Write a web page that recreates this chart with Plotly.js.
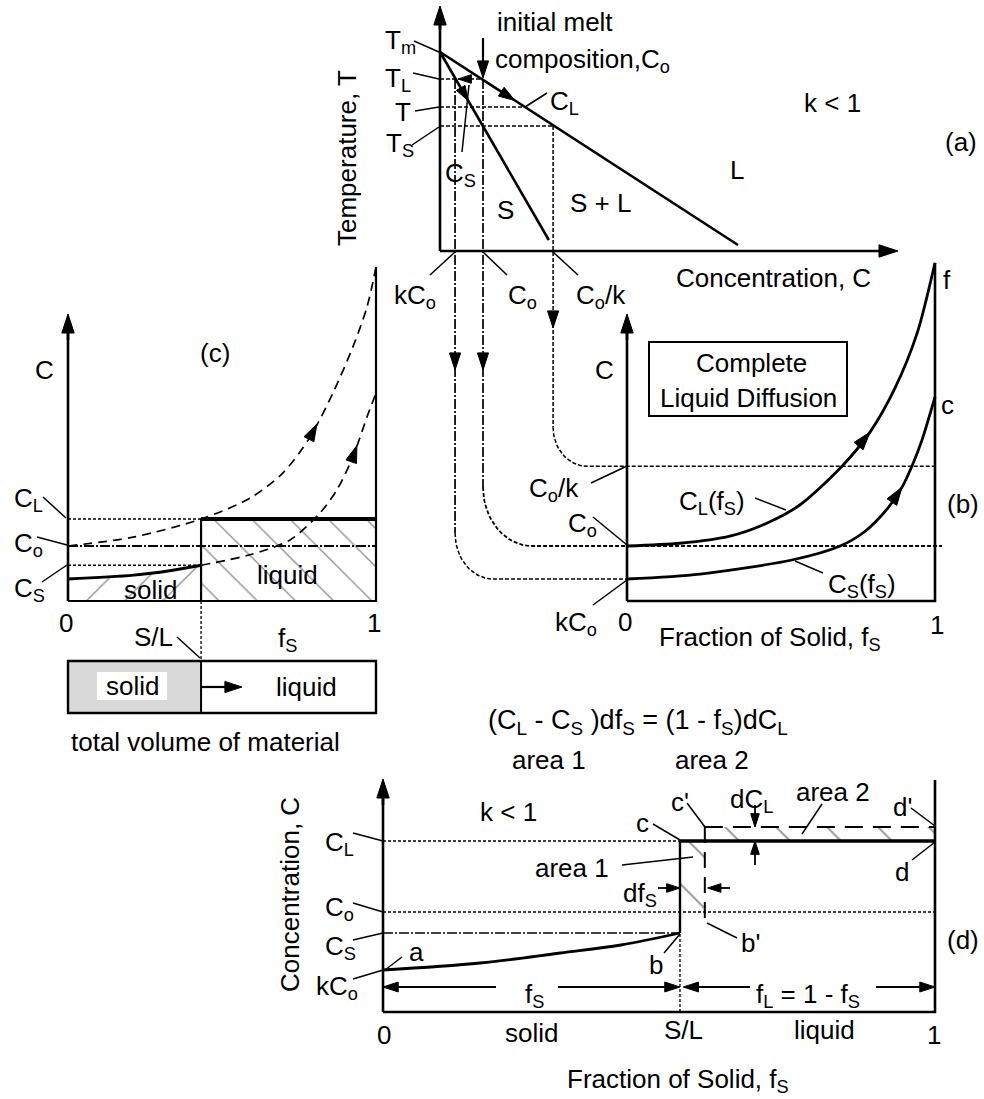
<!DOCTYPE html>
<html><head><meta charset="utf-8">
<script src="https://cdn.plot.ly/plotly-3.0.1.min.js"></script>
<style>html,body{margin:0;padding:0;background:#fff}#chart{width:984px;height:1099px}</style>
</head><body><div id="chart"></div>
<script>
// ================= DATA =================
// Panel (a): phase diagram, concentration in units of Co, temperature in arbitrary units
const concNamesA  = ['kCo', 'Co', 'Co/k'];
const concLevelsA = [0.35, 1.0, 2.63];
const tempNames   = ['Tm', 'TL', 'T', 'TS'];
const tempLevels  = [199, 172, 144, 125];
const liquidusC = [0, 6.93];
const liquidusT = [199, 6];
const solidusC  = [0, 2.53];
const solidusT  = [199, 11];

// Panel (b): complete liquid diffusion (Scheil) curves
const fsLiquidB = [0, 0.172, 0.334, 0.464, 0.562, 0.698, 0.789, 0.87, 0.942, 1.0];
const cLiquidB  = [1.0, 1.05, 1.18, 1.44, 1.75, 2.45, 3.07, 3.87, 4.87, 6.15];
const fsSolidB  = [0, 0.237, 0.539, 0.692, 0.769, 0.847, 0.893, 0.925, 0.958, 1.0];
const cSolidB   = [0.40, 0.49, 0.75, 1.0, 1.25, 1.69, 2.07, 2.45, 2.93, 3.71];
const concLevelsB = [0.40, 1.0, 2.45];      // kCo, Co, Co/k

// Panel (c)
const fsLiquidC = [0, 0.211, 0.432, 0.591, 0.698, 0.786, 0.86, 0.925, 0.971, 1.0];
const cLiquidC  = [1.0, 1.16, 1.49, 1.87, 2.33, 2.98, 3.78, 4.62, 5.35, 6.07];
const fsSolidNextC = [0.432, 0.591, 0.721, 0.818, 0.873, 0.925, 0.971, 1.0];
const cSolidNextC  = [0.65, 0.84, 1.11, 1.60, 2.02, 2.62, 3.35, 3.78];
const fsSolidC = [0, 0.214, 0.33, 0.432];
const cSolidC  = [0.40, 0.47, 0.55, 0.65];
const interfaceC = 0.432;
const levelsC = [1.49, 1.0, 0.65];          // CL, Co, CS

// Panel (d)
const fsSolidD = [0, 0.176, 0.321, 0.431, 0.538];
const cSolidD  = [0.42, 0.49, 0.59, 0.67, 0.79];
const interfaceD = 0.538;
const interfaceNextD = 0.583;
const levelsD = [1.71, 1.0, 0.79, 0.42];    // CL, Co, CS, kCo
const cLNextD = 1.85;

// ================= SETUP =================
const W = 984, H = 1099;
const FONT = 'Liberation Sans, Arial, Helvetica, sans-serif';
const K = '#000';
// each panel: its own hidden axis pair covering the page
const PANELS = {
  a: {ax: '',  px0: 440, sx: 43,  py0: 251,  sy: 1},
  b: {ax: '2', px0: 627, sx: 308, py0: 601,  sy: 55},
  c: {ax: '3', px0: 68,  sx: 308, py0: 601,  sy: 55},
  d: {ax: '4', px0: 383, sx: 552, py0: 1012, sy: 100}
};
for (const k in PANELS) {
  const p = PANELS[k];
  p.toPx = v => p.px0 + p.sx * v;
  p.toPy = v => p.py0 - p.sy * v;
  p.fromPx = px => (px - p.px0) / p.sx;
  p.fromPy = py => (p.py0 - py) / p.sy;
  p.xr = [p.fromPx(0), p.fromPx(W)];
  p.yr = [p.fromPy(H), p.fromPy(0)];
}
const A = PANELS.a, B = PANELS.b, C = PANELS.c, D = PANELS.d;

function interp(xs, ys, x) {
  for (let i = 1; i < xs.length; i++) {
    if (x <= xs[i]) { const t = (x - xs[i-1]) / (xs[i] - xs[i-1]); return ys[i-1] + t * (ys[i] - ys[i-1]); }
  }
  return ys[ys.length - 1];
}

const traces = [];
const HEADLINE = {width: 1, color: K};
function ln(p, xs, ys, width, dash, extra) {
  traces.push(Object.assign({type: 'scatter', mode: 'lines', x: xs, y: ys,
    xaxis: 'x' + p.ax, yaxis: 'y' + p.ax, hoverinfo: 'skip',
    line: {color: K, width: width, dash: dash || 'solid'}}, extra || {}));
}
function arrowLn(p, xs, ys, width, dash, size) {
  traces.push({type: 'scatter', mode: 'lines+markers', x: xs, y: ys,
    xaxis: 'x' + p.ax, yaxis: 'y' + p.ax, hoverinfo: 'skip',
    line: {color: K, width: width, dash: dash || 'solid'},
    marker: {symbol: 'arrow', angleref: 'previous', color: K, opacity: 1, line: HEADLINE,
      size: xs.map((_, i) => i === xs.length - 1 ? size : 0)}});
}
function head(p, x0, y0, x1, y1, size) {
  traces.push({type: 'scatter', mode: 'markers', x: [x0, x1], y: [y0, y1],
    xaxis: 'x' + p.ax, yaxis: 'y' + p.ax, hoverinfo: 'skip',
    marker: {symbol: 'arrow', angleref: 'previous', color: K, opacity: 1, line: HEADLINE, size: [0, size]}});
}
function curveHead(p, xs, ys, xTip, size) {
  const dx = 0.02 * (xs[xs.length-1] - xs[0]);
  head(p, xTip - dx, interp(xs, ys, xTip - dx), xTip, interp(xs, ys, xTip), size);
}
function hatch(p, xs, ys, shape, size) {
  traces.push({type: 'scatter', mode: 'none', x: xs, y: ys, xaxis: 'x' + p.ax, yaxis: 'y' + p.ax,
    hoverinfo: 'skip', fill: 'toself', fillcolor: 'rgba(0,0,0,0)',
    fillpattern: {shape: shape, size: size, solidity: 0.05, fgcolor: '#8c8c8c', bgcolor: 'rgba(0,0,0,0)'}});
}

// ================= PANEL (a) =================
const [Tm, TL, Tmid, TS] = tempLevels;
const [kCoA, CoA, CokA] = concLevelsA;
ln(A, [0, 0], [0, A.fromPy(20)], 2.6);
arrowLn(A, [0, 0], [A.fromPy(30), A.fromPy(6)], 2.6, null, 20);
arrowLn(A, [0, A.fromPx(898)], [0, 0], 2.6, null, 20);
ln(A, liquidusC, liquidusT, 2.6);
ln(A, solidusC, solidusT, 2.6);
const cAtT = interp(liquidusT.slice().reverse(), liquidusC.slice().reverse(), Tmid);
ln(A, [0, CoA], [TL, TL], 1.5, '4px,2px');
ln(A, [0, cAtT], [Tmid, Tmid], 1.5, '4px,2px');
ln(A, [0, CokA], [TS, TS], 1.5, '4px,2px');
// path arrows along liquidus / solidus / tie line
curveHead(A, liquidusC, liquidusT, 1.74, 17);
curveHead(A, solidusC, solidusT, 0.66, 16);
head(A, 0.75, TL, 0.42, TL, 14);
// initial melt composition arrow
arrowLn(A, [CoA, CoA], [A.fromPy(38), A.fromPy(78)], 2.2, null, 18);

// connectors from (a) to (b)
const radii = [[38, 46], [49, 59], [34, 39]];
const tops = [TL, TL, TS];
const ends = [0, 1.023, 1.0];
const tipsPy = [370, 370, 328];
for (let i = 0; i < 3; i++) {
  const xv = A.toPx(concLevelsA[i]);
  const yTop = A.toPy(tops[i]);
  const yh = B.toPy(concLevelsB[i]);
  const [rx, ry] = radii[i];
  const fx = B.fromPx(xv);
  ln(B, [fx, fx], [B.fromPy(yTop), B.fromPy(yh - ry)], i === 2 ? 1.5 : 1.7, i === 2 ? '4px,2px' : '10px,2px,2px,2px');
  const ax = [], ay = [];
  for (let j = 0; j <= 16; j++) {
    const t = j / 16 * Math.PI / 2;
    ax.push(B.fromPx(xv + rx - rx * Math.cos(t)));
    ay.push(B.fromPy(yh - ry + ry * Math.sin(t)));
  }
  ax.push(ends[i]); ay.push(concLevelsB[i]);
  ln(B, ax, ay, i === 1 ? 1.8 : 1.5, '4px,2px');
  head(B, fx, B.fromPy(tipsPy[i] - 12), fx, B.fromPy(tipsPy[i]), 18);
}

// ================= PANEL (b) =================
ln(B, [0, 0], [0, B.fromPy(330)], 2.6);
arrowLn(B, [0, 0], [B.fromPy(340), B.fromPy(314)], 2.6, null, 20);
ln(B, [0, 1, 1], [0, 0, B.fromPy(263)], 2.6);
ln(B, fsLiquidB, cLiquidB, 2.8, null, {line: {color: K, width: 2.8, shape: 'spline', smoothing: 0.8}});
ln(B, fsSolidB, cSolidB, 2.8, null, {line: {color: K, width: 2.8, shape: 'spline', smoothing: 0.8}});
curveHead(B, fsLiquidB, cLiquidB, 0.789, 19);
curveHead(B, fsSolidB, cSolidB, 0.893, 19);

// ================= PANEL (c) =================
const [CLc, Coc, CSc] = levelsC;
hatch(C, fsSolidC.concat([interfaceC, 0]), cSolidC.concat([0, 0]), '/', 27);
hatch(C, [interfaceC, 1, 1, interfaceC], [0, 0, CLc, CLc], '\\', 27);
ln(C, [0, 0], [0, C.fromPy(330)], 2.6);
arrowLn(C, [0, 0], [C.fromPy(340), C.fromPy(314)], 2.6, null, 20);
ln(C, [0, 1, 1], [0, 0, C.fromPy(267)], 2.2);
ln(C, [0, interfaceC], [CLc, CLc], 1.4, '3px,2px');
ln(C, [interfaceC, 1], [CLc, CLc], 4);
ln(C, [0, 1], [Coc, Coc], 1.8, '10px,2px,2px,2px');
ln(C, [0, interfaceC], [CSc, CSc], 1.4, '3px,2px');
ln(C, [interfaceC, interfaceC], [0, CLc], 2.2);
ln(C, [interfaceC, interfaceC], [0, C.fromPy(661)], 1.3, '3px,2px');
ln(C, fsSolidC, cSolidC, 2.8, null, {line: {color: K, width: 2.8, shape: 'spline'}});
ln(C, fsLiquidC, cLiquidC, 1.7, '9px,6px', {line: {color: K, width: 1.7, dash: '9px,6px', shape: 'spline', smoothing: 0.8}});
ln(C, fsSolidNextC, cSolidNextC, 1.7, '9px,6px', {line: {color: K, width: 1.7, dash: '9px,6px', shape: 'spline', smoothing: 0.8}});
curveHead(C, fsLiquidC, cLiquidC, 0.808, 18);
curveHead(C, fsSolidNextC, cSolidNextC, 0.938, 18);
arrowLn(C, [interfaceC, C.fromPx(242)], [C.fromPy(687), C.fromPy(687)], 2.2, null, 18);

// ================= PANEL (d) =================
const [CLd, Cod, CSd, kCod] = levelsD;
hatch(D, [interfaceD, interfaceNextD, interfaceNextD, interfaceD], [CSd, CSd, CLd, CLd], '\\', 36);
hatch(D, [interfaceNextD, 1, 1, interfaceNextD], [CLd, CLd, cLNextD, cLNextD], '\\', 36);
ln(D, [0, 0], [0, D.fromPy(795)], 2.6);
arrowLn(D, [0, 0], [D.fromPy(805), D.fromPy(779)], 2.6, null, 20);
ln(D, [0, 1, 1], [0, 0, D.fromPy(780)], 2.6);
ln(D, [0, interfaceD], [CLd, CLd], 1.4, '3px,2px');
ln(D, [interfaceD, 1], [CLd, CLd], 3.6);
ln(D, [0, 1], [Cod, Cod], 1.5, '3px,2px');
ln(D, [0, interfaceD], [CSd, CSd], 1.6, '10px,2px,2px,2px');
ln(D, [interfaceD, interfaceD], [CSd, CLd], 2.4);
ln(D, [interfaceD, interfaceD], [0, CSd], 1.3, '3px,2px');
ln(D, fsSolidD, cSolidD, 2.8, null, {line: {color: K, width: 2.8, shape: 'spline'}});
ln(D, [interfaceNextD, 1], [cLNextD, cLNextD], 2, '18px,10px');
ln(D, [interfaceNextD, interfaceNextD], [cLNextD, D.fromPy(922)], 2, '16px,9px');
// dC_L arrows
const fdc = D.fromPx(755);
arrowLn(D, [fdc, fdc], [D.fromPy(805), cLNextD], 1.8, null, 14);
arrowLn(D, [fdc, fdc], [D.fromPy(865), CLd], 1.8, null, 14);
// df_S arrows
const cdf = D.fromPy(888);
arrowLn(D, [D.fromPx(658), interfaceD], [cdf, cdf], 1.8, null, 14);
arrowLn(D, [D.fromPx(730), interfaceNextD + 0.005], [cdf, cdf], 1.8, null, 14);
// f_S and f_L arrows
const cf = D.fromPy(987);
arrowLn(D, [D.fromPx(496), 0], [cf, cf], 1.8, null, 16);
arrowLn(D, [D.fromPx(558), interfaceD], [cf, cf], 1.8, null, 16);
arrowLn(D, [D.fromPx(750), interfaceD + 0.006], [cf, cf], 1.8, null, 16);
arrowLn(D, [D.fromPx(876), 1], [cf, cf], 1.8, null, 16);

// ================= TEXT & DECORATION =================
const ann = [];
function t(text, x, y, o) {
  ann.push(Object.assign({xref: 'paper', yref: 'paper', x: x / W, y: 1 - y / H, text: text,
    showarrow: false, xanchor: 'center', yanchor: 'middle',
    font: {family: FONT, size: 26, color: K}}, o || {}));
}
const L = {xanchor: 'left'};
const shapes = [];
function lead(x0, y0, x1, y1, w) {
  shapes.push({type: 'line', xref: 'paper', yref: 'paper', x0: x0 / W, y0: 1 - y0 / H, x1: x1 / W, y1: 1 - y1 / H,
    line: {color: K, width: w || 1.5}});
}
function rect(x0, y0, x1, y1, o) {
  shapes.push(Object.assign({type: 'rect', xref: 'paper', yref: 'paper', x0: x0 / W, y0: 1 - y0 / H, x1: x1 / W, y1: 1 - y1 / H,
    line: {color: K, width: 2}}, o || {}));
}

// (a)
t('T<sub>m</sub>', 383, 42, L); lead(414, 41, 439, 52);
t('T<sub>L</sub>', 383, 80, L); lead(413, 73, 439, 79);
t('T', 403, 112); lead(415, 111, 439, 107);
t('T<sub>S</sub>', 384, 144, L); lead(412, 145, 439, 127);
t('Temperature, T', 347, 158, {textangle: -90});
t('initial melt', 555, 22);
t('composition,C<sub>o</sub>', 493, 60, L);
t('C<sub>L</sub>', 548, 103, L); lead(547, 93, 525, 107);
t('C<sub>S</sub>', 443, 174, L); lead(462, 152, 469, 85);
t('k < 1', 832, 103);
t('(a)', 961, 142);
t('L', 737, 170);
t('S + L', 600, 203);
t('S', 505, 210);
t('Concentration, C', 773, 278);
t('kC<sub>o</sub>', 392, 296, L); lead(430, 275, 455, 252);
t('C<sub>o</sub>', 506, 296, L); lead(507, 275, 483, 252);
t('C<sub>o</sub>/k', 574, 296, L); lead(578, 275, 553, 252);

// (b)
t('C', 604, 370);
rect(649, 342, 847, 416);
t('Complete', 751, 363);
t('Liquid Diffusion', 748, 398);
t('C<sub>o</sub>/k', 527, 489, L); lead(591, 483, 627, 466);
t('C<sub>o</sub>', 566, 524, L); lead(593, 517, 627, 545);
t('kC<sub>o</sub>', 553, 623, L); lead(593, 605, 627, 580);
t('0', 625, 622);
t('Fraction of Solid, f<sub>S</sub>', 657, 638, L);
t('1', 937, 625);
t('f', 947, 280);
t('c', 947, 405);
t('(b)', 963, 504);
t('C<sub>L</sub>(f<sub>S</sub>)', 677, 502, L); lead(755, 498, 786, 510);
t('C<sub>S</sub>(f<sub>S</sub>)', 826, 585, L); lead(823, 573, 795, 561);

// (c)
t('C', 44, 370);
t('(c)', 215, 353);
t('C<sub>L</sub>', 12, 499, L); lead(43, 497, 66, 518);
t('C<sub>o</sub>', 12, 544, L); lead(37, 537, 67, 545);
t('C<sub>S</sub>', 12, 589, L); lead(42, 582, 67, 565);
t('0', 66, 623);
t('1', 374, 623);
t('f<sub>S</sub>', 276, 639, L);
t('S/L', 153, 637); lead(177, 637, 200, 658);
t('solid', 150, 590);
t('liquid', 287, 575);
// volume bar
shapes.push({type: 'rect', xref: 'x3', yref: 'paper', x0: 0, x1: interfaceC, y0: 1 - 713 / H, y1: 1 - 661 / H,
  fillcolor: '#d9d9d9', line: {color: K, width: 2}, layer: 'below'});
shapes.push({type: 'rect', xref: 'x3', yref: 'paper', x0: 0, x1: 1, y0: 1 - 713 / H, y1: 1 - 661 / H,
  line: {color: K, width: 2.4}});
shapes.push({type: 'rect', xref: 'paper', yref: 'paper', x0: 97 / W, x1: 167 / W, y0: 1 - 700 / H, y1: 1 - 672 / H,
  fillcolor: '#fff', line: {width: 0}, layer: 'below'});
t('solid', 132, 686);
t('liquid', 306, 687);
t('total volume of material', 205, 742);

// (d)
t('(C<sub>L</sub> - C<sub>S</sub> )df<sub>S</sub> = (1 - f<sub>S</sub>)dC<sub>L</sub>', 638, 722, {font: {family: FONT, size: 27, color: K}});
t('area 1', 549, 760);
t('area 2', 712, 760);
t('k < 1', 508, 812);
t("c'", 680, 802); lead(687, 803, 705, 827);
t('dC<sub>L</sub>', 728, 800, L);
t('area 2', 833, 792); lead(822, 804, 802, 834);
t("d'", 902, 807); lead(911, 808, 935, 826);
t('c', 642, 823); lead(653, 824, 680, 840);
t('area 1', 572, 868); lead(622, 865, 693, 857);
t('df<sub>S</sub>', 621, 894, L);
t("b'", 750, 943); lead(707, 923, 737, 938);
t('a', 416, 952); lead(402, 957, 385, 970);
t('b', 656, 965); lead(664, 953, 680, 934);
t('d', 902, 872); lead(912, 860, 935, 842);
t('(d)', 963, 940);
t('f<sub>S</sub>', 523, 995, L);
t('f<sub>L</sub> = 1 - f<sub>S</sub>', 754, 995, L);
t('C<sub>L</sub>', 323, 843, L); lead(353, 833, 383, 841);
t('C<sub>o</sub>', 323, 908, L); lead(353, 903, 383, 912);
t('C<sub>S</sub>', 323, 947, L); lead(353, 940, 383, 933);
t('kC<sub>o</sub>', 314, 987, L); lead(353, 979, 383, 970);
t('Concentration, C', 290, 895, {textangle: -90});
t('0', 384, 1035);
t('solid', 531, 1033);
t('S/L', 683, 1030);
t('liquid', 824, 1030);
t('1', 934, 1035);
t('Fraction of Solid, f<sub>S</sub>', 565, 1080, L);

// ================= LAYOUT =================
const layout = {
  width: W, height: H, autosize: false,
  margin: {l: 0, r: 0, t: 0, b: 0, pad: 0},
  paper_bgcolor: '#fff', plot_bgcolor: 'rgba(0,0,0,0)',
  showlegend: false, hovermode: false,
  annotations: ann, shapes: shapes,
  font: {family: FONT, size: 26, color: K}
};
['a', 'b', 'c', 'd'].forEach((k, i) => {
  const p = PANELS[k];
  const xa = {domain: [0, 1], range: p.xr, visible: false, fixedrange: true, anchor: 'y' + p.ax};
  const ya = {domain: [0, 1], range: p.yr, visible: false, fixedrange: true, anchor: 'x' + p.ax};
  if (i > 0) { xa.overlaying = 'x'; ya.overlaying = 'y'; }
  layout['xaxis' + p.ax] = xa;
  layout['yaxis' + p.ax] = ya;
});

Plotly.newPlot('chart', traces, layout, {staticPlot: true, displayModeBar: false});
</script></body></html>
